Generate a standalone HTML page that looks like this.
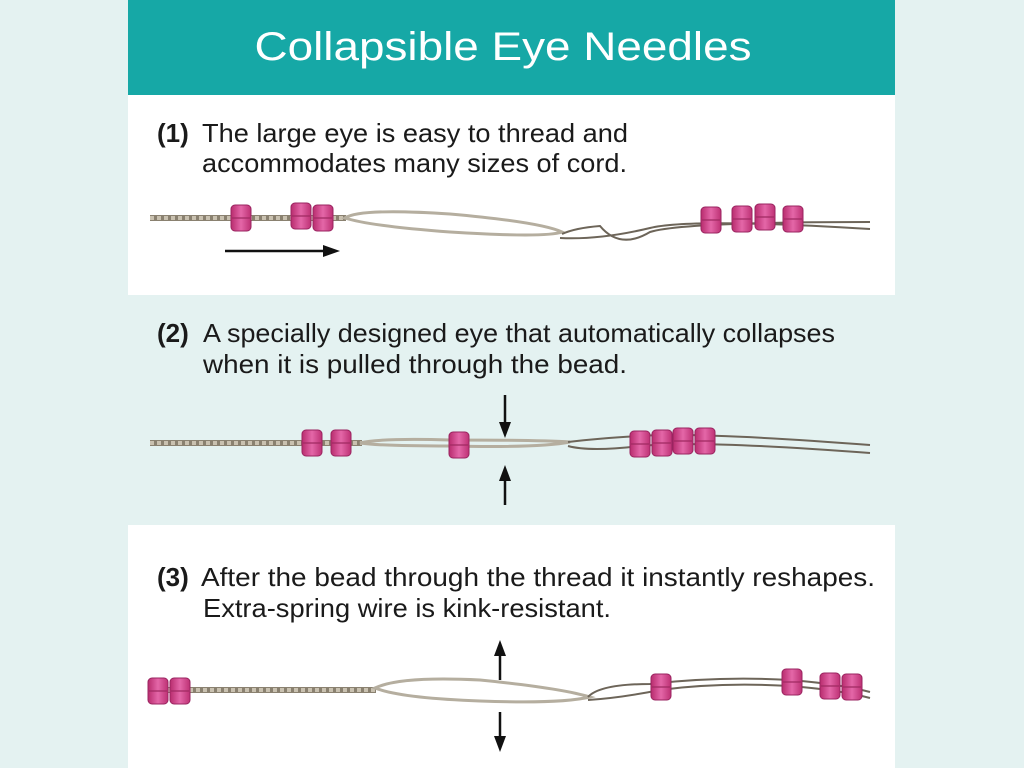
<!DOCTYPE html>
<html><head><meta charset="utf-8"><style>
html,body{margin:0;padding:0;background:#e4f2f1;width:1024px;height:768px;overflow:hidden}
svg{display:block}
text{font-family:"Liberation Sans",sans-serif;fill:#1a1a1a}
</style></head><body>
<svg width="1024" height="768" viewBox="0 0 1024 768" xmlns="http://www.w3.org/2000/svg">
<defs>
<linearGradient id="bd" x1="0" y1="0" x2="1" y2="0">
<stop offset="0" stop-color="#b82c6e"/><stop offset="0.5" stop-color="#e467a8"/><stop offset="1" stop-color="#bd3174"/>
</linearGradient>
<g id="bead"><rect x="0" y="0" width="20" height="26" rx="4" fill="url(#bd)" stroke="#9a2460" stroke-width="1"/><line x1="1" y1="13" x2="19" y2="13" stroke="#a02a62" stroke-width="1.2"/></g>
</defs>
<rect x="0" y="0" width="1024" height="768" fill="#e4f2f1"/>
<rect x="128" y="0" width="767" height="95" fill="#16a8a6"/>
<text x="503" y="60" font-size="40" text-anchor="middle" style="fill:#fff" textLength="497" lengthAdjust="spacingAndGlyphs">Collapsible Eye Needles</text>
<rect x="128" y="95" width="767" height="200" fill="#fff"/>
<rect x="128" y="295" width="767" height="230" fill="#e4f2f1"/>
<rect x="128" y="525" width="767" height="243" fill="#fff"/>

<text x="157" y="142" font-size="26" font-weight="bold">(1)</text>
<text x="202" y="142" font-size="26" textLength="426" lengthAdjust="spacingAndGlyphs">The large eye is easy to thread and</text>
<text x="202" y="172" font-size="26" textLength="425" lengthAdjust="spacingAndGlyphs">accommodates many sizes of cord.</text>
<line x1="150" y1="218" x2="346" y2="218" stroke="#8a8170" stroke-width="6"/>
<line x1="150" y1="218" x2="346" y2="218" stroke="#c9c1b0" stroke-width="4" stroke-dasharray="4 3"/>
<path d="M345 218 Q360 208 450 214 Q540 222 562 232 Q545 238 450 232 Q370 226 345 218Z" fill="none" stroke="#b5ae9f" stroke-width="3"/>
<path d="M562 234 Q575 228 600 226 Q620 250 650 232 Q680 222 870 222" fill="none" stroke="#6d6559" stroke-width="2"/>
<path d="M560 238 Q600 240 650 228 Q690 218 870 229" fill="none" stroke="#6d6559" stroke-width="2"/>
<use href="#bead" x="231" y="205"/><use href="#bead" x="291" y="203"/><use href="#bead" x="313" y="205"/>
<use href="#bead" x="701" y="207"/><use href="#bead" x="732" y="206"/><use href="#bead" x="755" y="204"/><use href="#bead" x="783" y="206"/>
<line x1="225" y1="251" x2="325" y2="251" stroke="#111" stroke-width="2.5"/><path d="M340 251 L323 245 L323 257Z" fill="#111"/>

<text x="157" y="342" font-size="26" font-weight="bold">(2)</text>
<text x="203" y="342" font-size="26" textLength="632" lengthAdjust="spacingAndGlyphs">A specially designed eye that automatically collapses</text>
<text x="203" y="373" font-size="26" textLength="424" lengthAdjust="spacingAndGlyphs">when it is pulled through the bead.</text>
<line x1="150" y1="443" x2="362" y2="443" stroke="#8a8170" stroke-width="6"/>
<line x1="150" y1="443" x2="362" y2="443" stroke="#c9c1b0" stroke-width="4" stroke-dasharray="4 3"/>
<path d="M360 443 Q380 438 450 440 Q540 440 570 442 Q540 448 450 446 Q380 446 360 443Z" fill="none" stroke="#b5ae9f" stroke-width="3"/>
<path d="M568 442 Q600 438 640 436 Q700 432 870 445" fill="none" stroke="#6d6559" stroke-width="2"/>
<path d="M568 446 Q590 452 640 446 Q700 440 870 453" fill="none" stroke="#6d6559" stroke-width="2"/>
<use href="#bead" x="302" y="430"/><use href="#bead" x="331" y="430"/><use href="#bead" x="449" y="432"/>
<use href="#bead" x="630" y="431"/><use href="#bead" x="652" y="430"/><use href="#bead" x="673" y="428"/><use href="#bead" x="695" y="428"/>
<line x1="505" y1="395" x2="505" y2="425" stroke="#111" stroke-width="2.5"/><path d="M505 438 L499 422 L511 422Z" fill="#111"/>
<line x1="505" y1="478" x2="505" y2="505" stroke="#111" stroke-width="2.5"/><path d="M505 465 L499 481 L511 481Z" fill="#111"/>

<text x="157" y="586" font-size="26" font-weight="bold">(3)</text>
<text x="201" y="586" font-size="26" textLength="674" lengthAdjust="spacingAndGlyphs">After the bead through the thread it instantly reshapes.</text>
<text x="203" y="617" font-size="26" textLength="408" lengthAdjust="spacingAndGlyphs">Extra-spring wire is kink-resistant.</text>
<line x1="168" y1="690" x2="376" y2="690" stroke="#8a8170" stroke-width="6"/>
<line x1="168" y1="690" x2="376" y2="690" stroke="#c9c1b0" stroke-width="4" stroke-dasharray="4 3"/>
<path d="M375 688 Q400 676 480 680 Q560 688 590 697 Q560 704 480 701 Q400 698 375 688Z" fill="none" stroke="#b5ae9f" stroke-width="3"/>
<path d="M588 697 Q600 684 650 684 Q720 676 790 680 Q840 684 870 692" fill="none" stroke="#6d6559" stroke-width="2"/>
<path d="M588 700 Q620 698 660 690 Q720 682 790 686 Q840 690 870 698" fill="none" stroke="#6d6559" stroke-width="2"/>
<use href="#bead" x="148" y="678"/><use href="#bead" x="170" y="678"/><use href="#bead" x="651" y="674"/>
<use href="#bead" x="782" y="669"/><use href="#bead" x="820" y="673"/><use href="#bead" x="842" y="674"/>
<line x1="500" y1="652" x2="500" y2="680" stroke="#111" stroke-width="2.5"/><path d="M500 640 L494 656 L506 656Z" fill="#111"/>
<line x1="500" y1="712" x2="500" y2="740" stroke="#111" stroke-width="2.5"/><path d="M500 752 L494 736 L506 736Z" fill="#111"/>
</svg>
</body></html>
